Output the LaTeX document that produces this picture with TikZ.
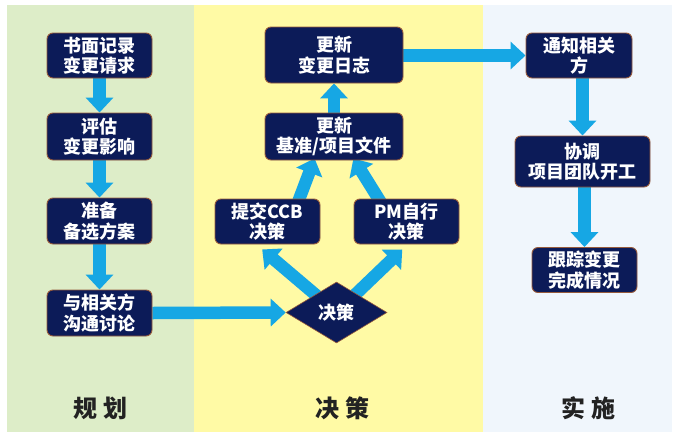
\documentclass[tikz,border=0pt]{standalone}
\usepackage{fontspec}
\newfontfamily\cjk{Noto Sans CJK SC}
\usetikzlibrary{shapes.geometric,arrows.meta,calc,backgrounds}
\definecolor{bggreen}{RGB}{221,237,200}
\definecolor{bgyellow}{RGB}{255,250,165}
\definecolor{bgblue}{RGB}{240,246,252}
\definecolor{boxfill}{RGB}{12,27,88}
\definecolor{boxline}{RGB}{150,90,60}
\definecolor{arrowc}{RGB}{22,167,228}
\definecolor{labelc}{RGB}{34,34,34}
\tikzset{
  stepbox/.style={draw=boxline, line width=0.9pt, fill=boxfill, rounded corners=6pt,
    inner sep=0pt, align=center, text=white,
    font=\cjk\bfseries\fontsize{18}{20.5}\selectfont},
  decbox/.style={draw=boxline, line width=0.6pt, fill=boxfill, shape=diamond,
    inner sep=0pt, minimum width=101pt, minimum height=61pt, text=white,
    font=\cjk\bfseries\fontsize{18}{20.5}\selectfont},
  blk/.style={draw=arrowc, line width=12.5pt, -{Triangle[width=27pt,length=15pt]}},
  phase/.style={text=labelc, font=\cjk\bfseries\fontsize{24}{28}\selectfont}
}
\begin{document}
\begin{tikzpicture}[x=1pt,y=-1pt]
\useasboundingbox (0,0) rectangle (673,437);
\begin{scope}[on background layer]
\fill[white] (0,0) rectangle (673,437);
\fill[bggreen] (7,5) rectangle (194,432);
\fill[bgyellow] (194,5) rectangle (483,432);
\fill[bgblue] (483,5) rectangle (672,432);
\end{scope}

% planning column
\node[stepbox, minimum width=105pt, minimum height=45pt] (n1) at (99.5,55.5) {书面记录\\变更请求};
\node[stepbox, minimum width=105pt, minimum height=47pt] (n2) at (99.5,136.5) {评估\\变更影响};
\node[stepbox, minimum width=105pt, minimum height=46pt] (n3) at (99.5,221) {准备\\备选方案};
\node[stepbox, minimum width=105pt, minimum height=46pt] (n4) at (99.5,313) {与相关方\\沟通讨论};

% decision column
\node[stepbox, minimum width=138pt, minimum height=56pt] (log) at (334,55) {更新\\变更日志};
\node[stepbox, minimum width=138pt, minimum height=47pt] (upd) at (334,136.5) {更新\\基准/项目文件};
\node[stepbox, minimum width=105pt, minimum height=45pt] (ccb) at (267.5,221.5) {提交CCB\\决策};
\node[stepbox, minimum width=105pt, minimum height=45pt] (pm) at (406.5,221.5) {PM自行\\决策};
\node[decbox] (dia) at (336.5,312.5) {决策};

% implementation column
\node[stepbox, minimum width=106pt, minimum height=45pt] (notify) at (579,55.5) {通知相关\\方};
\node[stepbox, minimum width=135pt, minimum height=51pt] (coord) at (582.5,161.5) {协调\\项目团队开工};
\node[stepbox, minimum width=105pt, minimum height=45pt] (track) at (584.5,270) {跟踪变更\\完成情况};

% phase labels
\node[phase] (p1) at (100,408) {规\hspace{6pt}划};
\node[phase] (p2) at (342,408) {决\hspace{6pt}策};
\node[phase] (p3) at (588,408) {实\hspace{6pt}施};

\begin{scope}[on background layer]
\draw[blk] (n1.south) -- (n2.north);
\draw[blk] (n2.south) -- (n3.north);
\draw[blk] (n3.south) -- (n4.north);
\draw[blk] (n4.east) -- (dia.west);
\draw[blk] (dia.center) -- ([yshift=-5pt]$(ccb.south west)!0.45!(ccb.south east)$);
\draw[blk] (dia.center) -- ([yshift=-5pt]$(pm.south west)!0.46!(pm.south east)$);
\draw[blk] ([yshift=-6pt]$(ccb.north west)!0.78!(ccb.north east)$) -- ([yshift=2pt]$(upd.south west)!0.36!(upd.south east)$);
\draw[blk] ([yshift=-6pt]$(pm.north west)!0.27!(pm.north east)$) -- ([yshift=2pt]$(upd.south west)!0.64!(upd.south east)$);
\draw[blk] (upd.north) -- (log.south);
\draw[blk] (log.east |- notify.west) -- (notify.west);
\draw[blk] (coord.north |- notify.south) -- (coord.north);
\draw[blk] (track.north |- coord.south) -- (track.north);
\end{scope}
\end{tikzpicture}
\end{document}
